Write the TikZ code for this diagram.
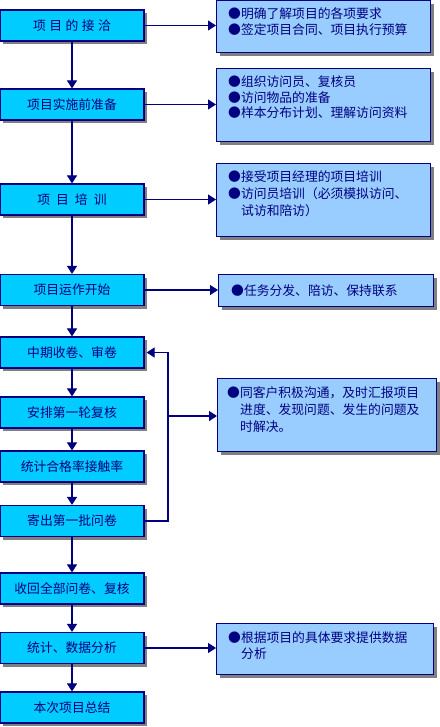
\documentclass[tikz,border=0pt]{standalone}
\usepackage{fontspec}
\newfontfamily\cjk{Noto Sans CJK SC}
\usetikzlibrary{arrows.meta,shadows,calc}
\definecolor{navy}{HTML}{000080}
\definecolor{boxcyan}{HTML}{00CCFF}
\definecolor{boxlight}{HTML}{99CCFF}
\definecolor{shadowgray}{HTML}{808080}
\begin{document}
\begin{tikzpicture}[x=1pt,y=-1pt,
  shad/.style={drop shadow={shadow xshift=3pt,shadow yshift=-3pt,fill=shadowgray,opacity=1}},
  stepbox/.style={draw=navy,line width=1.2pt,fill=boxcyan,minimum width=144pt,minimum height=31pt,
    inner sep=0pt,font=\cjk\fontsize{12.8}{15}\selectfont,text=navy,shad},
  notebox/.style={draw=navy,line width=1.2pt,fill=boxlight,inner sep=0pt,anchor=north west,shad},
  notetext/.style={anchor=base west,inner sep=0pt,font=\cjk\fontsize{12.8}{15}\selectfont,text=navy},
  conn/.style={draw=navy,line width=1.1pt,-{Triangle[length=8pt,width=10pt]}},
  plain/.style={draw=navy,line width=1.1pt}]
\useasboundingbox (0,0) rectangle (439,727);
\fill[white] (0,0) rectangle (439,727);

% left steps
\node[stepbox] (s1) at (72,25.5) {项\hspace{3.5pt}目\hspace{3.5pt}的\hspace{3.5pt}接\hspace{3.5pt}洽};
\node[stepbox] (s2) at (72,104.5) {项目实施前准备};
\node[stepbox] (s3) at (72,199.5) {项\hspace{6pt}目\hspace{6pt}培\hspace{6pt}训};
\node[stepbox] (s4) at (72,290) {项目运作开始};
\node[stepbox] (s5) at (72,352.5) {中期收卷、审卷};
\node[stepbox] (s6) at (72,412.5) {安排第一轮复核};
\node[stepbox] (s7) at (72,466.5) {统计合格率接触率};
\node[stepbox] (s8) at (72,521) {寄出第一批问卷};
\node[stepbox] (s9) at (72,588.5) {收回全部问卷、复核};
\node[stepbox] (s10) at (72,648) {统计、数据分析};
\node[stepbox] (s11) at (72,707.5) {本次项目总结};

% note boxes
\node[notebox,minimum width=214pt,minimum height=52pt] (r1) at (216,0) {};
\node[notebox,minimum width=214pt,minimum height=73pt] (r2) at (216,68) {};
\node[notebox,minimum width=214pt,minimum height=73pt] (r3) at (216,163) {};
\node[notebox,minimum width=215pt,minimum height=32pt] (r4) at (218,274) {};
\node[notebox,minimum width=219pt,minimum height=73pt] (r5) at (217,378) {};
\node[notebox,minimum width=217pt,minimum height=51pt] (r6) at (216,623) {};

% note texts
\node[notetext] (t1a) at (228,18.5) {●明确了解项目的各项要求};
\node[notetext] (t1b) at (228,35) {●签定项目合同、项目执行预算};
\node[notetext] (t2a) at (228,87) {●组织访问员、复核员};
\node[notetext] (t2b) at (228,102.5) {●访问物品的准备};
\node[notetext] (t2c) at (228,118) {●样本分布计划、理解访问资料};
\node[notetext] (t3a) at (228,182) {●接受项目经理的项目培训};
\node[notetext] (t3b) at (228,198.5) {●访问员培训（必须模拟访问、};
\node[notetext] (t3c) at (241,215) {试访和陪访）};
\node[notetext] (t4a) at (231,295) {●任务分发、陪访、保持联系};
\node[notetext] (t5a) at (227,397) {●同客户积极沟通，及时汇报项目};
\node[notetext] (t5b) at (240,414) {进度、发现问题、发生的问题及};
\node[notetext] (t5c) at (240,431.5) {时解决。};
\node[notetext] (t6a) at (228,642) {●根据项目的具体要求提供数据};
\node[notetext] (t6b) at (241,658) {分析};

% vertical flow
\draw[conn] (s1) -- (s2);
\draw[conn] (s2) -- (s3);
\draw[conn] (s3) -- (s4);
\draw[conn] (s4) -- (s5);
\draw[conn] (s5) -- (s6);
\draw[conn] (s6) -- (s7);
\draw[conn] (s7) -- (s8);
\draw[conn] (s8) -- (s9);
\draw[conn] (s9) -- (s10);
\draw[conn] (s10) -- (s11);

% to notes
\draw[conn] (s1.east) -- (s1.east -| r1.west);
\draw[conn] (s2.east) -- (s2.east -| r2.west);
\draw[conn] (s3.east) -- (s3.east -| r3.west);
\draw[conn] (s4.east) -- (s4.east -| r4.west);
\draw[conn] (s10.east) -- (s10.east -| r6.west);

% feedback loop
\coordinate (fb) at (168,416);
\draw[conn] (s8.east) -- (s8.east -| fb) -- (s5.east -| fb) -- ([xshift=2pt]s5.east);
\draw[conn] (fb) -- (fb -| r5.west);
\end{tikzpicture}
\end{document}
